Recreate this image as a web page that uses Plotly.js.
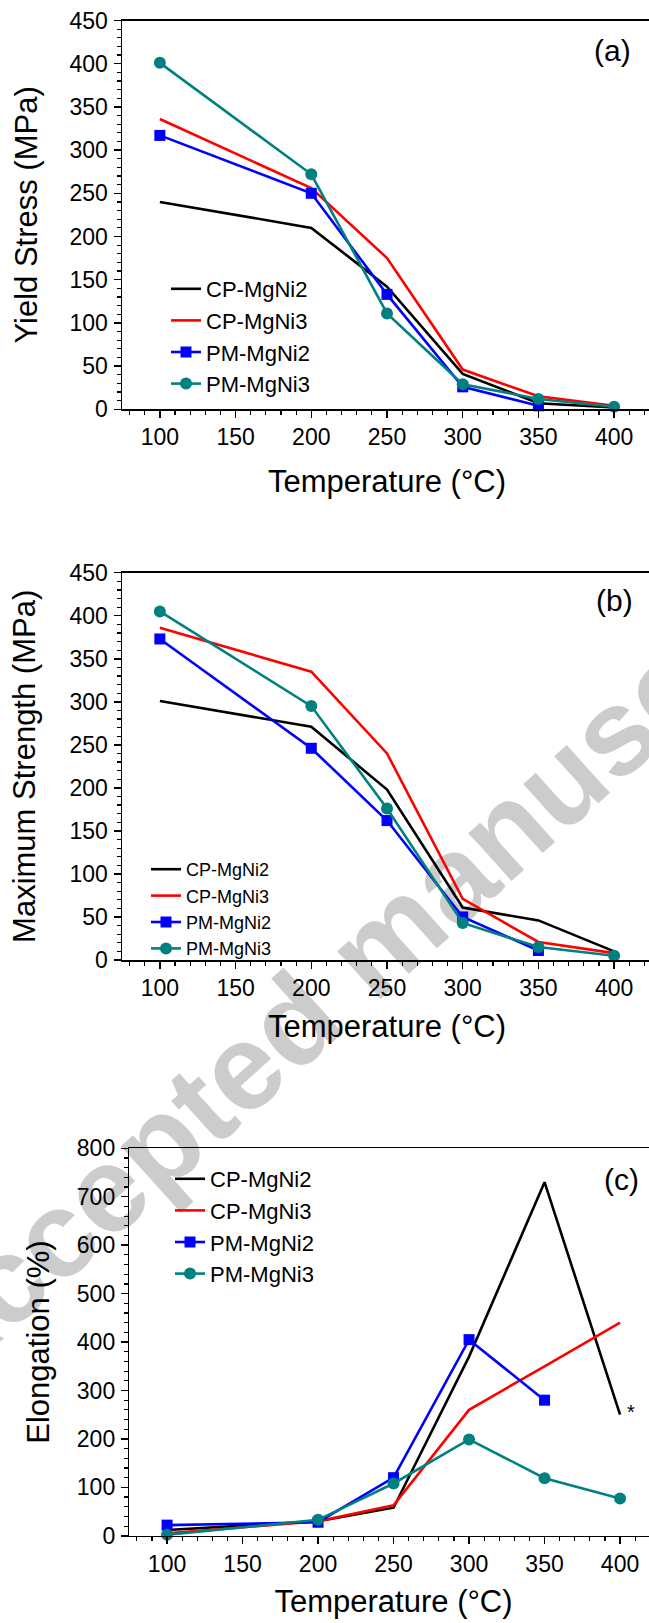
<!DOCTYPE html>
<html>
<head>
<meta charset="utf-8">
<script src="https://cdn.plot.ly/plotly-3.0.1.min.js"></script>
<style>
  html, body { margin: 0; padding: 0; background: #ffffff; overflow: hidden; }
  #wrap { position: relative; width: 649px; height: 1623px; overflow: hidden; }
  #wm { position: absolute; left: -80px; top: 1300px; white-space: nowrap;
        font-family: Arial, 'Liberation Sans', sans-serif; font-weight: bold;
        font-size: 122px; line-height: 1; color: #cccccc;
        transform-origin: 0 71.6px; transform: rotate(-42deg); z-index: 0; }
  #chart { position: absolute; left: 0; top: 0; z-index: 1; }
</style>
</head>
<body>
<div id="wrap">
  <div id="wm">Accepted manuscript</div>
  <div id="chart"></div>
</div>
<script>
// ---------------- data ----------------
const temps = [100, 200, 250, 300, 350, 400];
const tempsPM2 = [100, 200, 250, 300, 350];
const seriesNames = ['CP-MgNi2', 'CP-MgNi3', 'PM-MgNi2', 'PM-MgNi3'];

// (a) Yield stress (MPa)
const ysCPMgNi2 = [240, 210, 142, 41, 7, 2];
const ysCPMgNi3 = [336, 256, 175, 46, 15, 4];
const ysPMMgNi2 = [317, 250, 133, 26, 4];
const ysPMMgNi3 = [401, 272, 111, 29, 12, 3];

// (b) Maximum strength (MPa)
const msCPMgNi2 = [301, 271, 198, 61, 46, 10];
const msCPMgNi3 = [386, 335, 240, 71, 21, 8];
const msPMMgNi2 = [373, 246, 162, 50, 11];
const msPMMgNi3 = [405, 295, 176, 43, 15, 5];

// (c) Elongation (%)
const elCPMgNi2 = [12, 30, 58, 370, 730, 250];
const elCPMgNi3 = [5, 30, 63, 260, 350, 440];
const elPMMgNi2 = [22, 28, 120, 405, 280];
const elPMMgNi3 = [2, 33, 108, 199, 119, 77];

const yTicksStress = [0, 50, 100, 150, 200, 250, 300, 350, 400, 450];
const yTicksElong = [0, 100, 200, 300, 400, 500, 600, 700, 800];
const xTicks = [100, 150, 200, 250, 300, 350, 400];

// ---------------- styling / layout ----------------
const W = 660, H = 1623;
const fx = p => p / W;
const fy = p => 1 - p / H;
const FONT = "Arial, 'Liberation Sans', sans-serif";

const colors = ['#000000', '#ff0000', '#0000ff', '#008080'];
const modes = ['lines', 'lines', 'lines+markers', 'lines+markers'];
const symbols = ['circle', 'circle', 'square', 'circle'];
const msizes = [10, 10, 11, 12];

function mkTraces(xs, ysArr, xa, ya, legendId) {
  return ysArr.map((ys, i) => ({
    type: 'scatter', x: xs[i], y: ys, name: seriesNames[i],
    mode: modes[i], xaxis: xa, yaxis: ya, legend: legendId,
    cliponaxis: false,
    line: { color: colors[i], width: 2.6 },
    marker: { color: colors[i], symbol: symbols[i], size: msizes[i] }
  }));
}

const traces = [].concat(
  mkTraces([temps, temps, tempsPM2, temps], [ysCPMgNi2, ysCPMgNi3, ysPMMgNi2, ysPMMgNi3], 'x', 'y', 'legend'),
  mkTraces([temps, temps, tempsPM2, temps], [msCPMgNi2, msCPMgNi3, msPMMgNi2, msPMMgNi3], 'x2', 'y2', 'legend2'),
  mkTraces([temps, temps, tempsPM2, temps], [elCPMgNi2, elCPMgNi3, elPMMgNi2, elPMMgNi3], 'x3', 'y3', 'legend3')
);

function xAxis(domain, anchor, standoff) {
  return {
    domain: domain, anchor: anchor, range: [75, 425],
    tickmode: 'array', tickvals: xTicks,
    showline: true, linecolor: '#000', linewidth: 1.5, mirror: true,
    ticks: 'outside', ticklen: 7, tickwidth: 1.5, tickcolor: '#000',
    minor: { ticks: 'outside', ticklen: 4, tickwidth: 1.2, dtick: 10, tick0: 0, tickcolor: '#000' },
    showgrid: false, zeroline: false,
    tickfont: { family: FONT, size: 23, color: '#000' },
    ticklabelstandoff: 0,
    title: { text: 'Temperature (°C)', font: { family: FONT, size: 31, color: '#000' }, standoff: standoff },
    automargin: false, fixedrange: true
  };
}
function yAxis(domain, anchor, range, tickvals, minorD, title, standoff) {
  return {
    domain: domain, anchor: anchor, range: range,
    tickmode: 'array', tickvals: tickvals,
    showline: true, linecolor: '#000', linewidth: 1.5, mirror: true,
    ticks: 'outside', ticklen: 7, tickwidth: 1.5, tickcolor: '#000',
    minor: { ticks: 'outside', ticklen: 4, tickwidth: 1.2, dtick: minorD, tick0: 0, tickcolor: '#000' },
    showgrid: false, zeroline: false,
    tickfont: { family: FONT, size: 23, color: '#000' },
    ticklabelstandoff: 1,
    title: { text: title, font: { family: FONT, size: 31, color: '#000' }, standoff: standoff },
    automargin: false, fixedrange: true
  };
}

function label(text, px, py, size) {
  return { text: text, xref: 'paper', yref: 'paper', x: fx(px), y: fy(py),
           xanchor: 'center', yanchor: 'middle', showarrow: false,
           font: { family: FONT, size: size, color: '#000' } };
}

const layout = {
  width: W, height: H,
  margin: { l: 0, r: 0, t: 0, b: 0, pad: 0 },
  paper_bgcolor: 'rgba(0,0,0,0)', plot_bgcolor: 'rgba(0,0,0,0)',
  font: { family: FONT, color: '#000' },
  xaxis:  xAxis([fx(122), fx(652)], 'y', 21),
  yaxis:  yAxis([fy(409.3), fy(20.5)], 'x', [0, 450], yTicksStress, 10, 'Yield Stress (MPa)', 22),
  xaxis2: xAxis([fx(122), fx(652)], 'y2', 15),
  yaxis2: yAxis([fy(960), fy(572.7)], 'x2', [0, 450], yTicksStress, 10, 'Maximum Strength (MPa)', 24),
  xaxis3: xAxis([fx(129.3), fx(657.8)], 'y3', 14),
  yaxis3: yAxis([fy(1535.8), fy(1148.3)], 'x3', [0, 800], yTicksElong, 20, 'Elongation (%)', 18),
  legend:  { x: fx(166), y: fy(268), xanchor: 'left', yanchor: 'top', bgcolor: 'rgba(0,0,0,0)',
             font: { family: FONT, size: 22, color: '#000' }, tracegroupgap: 0 },
  legend2: { x: fx(146), y: fy(851), xanchor: 'left', yanchor: 'top', bgcolor: 'rgba(0,0,0,0)',
             font: { family: FONT, size: 18, color: '#000' }, tracegroupgap: 0 },
  legend3: { x: fx(170), y: fy(1158), xanchor: 'left', yanchor: 'top', bgcolor: 'rgba(0,0,0,0)',
             font: { family: FONT, size: 22, color: '#000' }, tracegroupgap: 0 },
  annotations: [
    label('(a)', 612, 51, 30),
    label('(b)', 614, 600, 30),
    label('(c)', 621, 1179, 30),
    label('*', 631, 1412, 20)
  ],
  showlegend: true
};

Plotly.newPlot('chart', traces, layout, { staticPlot: true, displayModeBar: false });
</script>
</body>
</html>
